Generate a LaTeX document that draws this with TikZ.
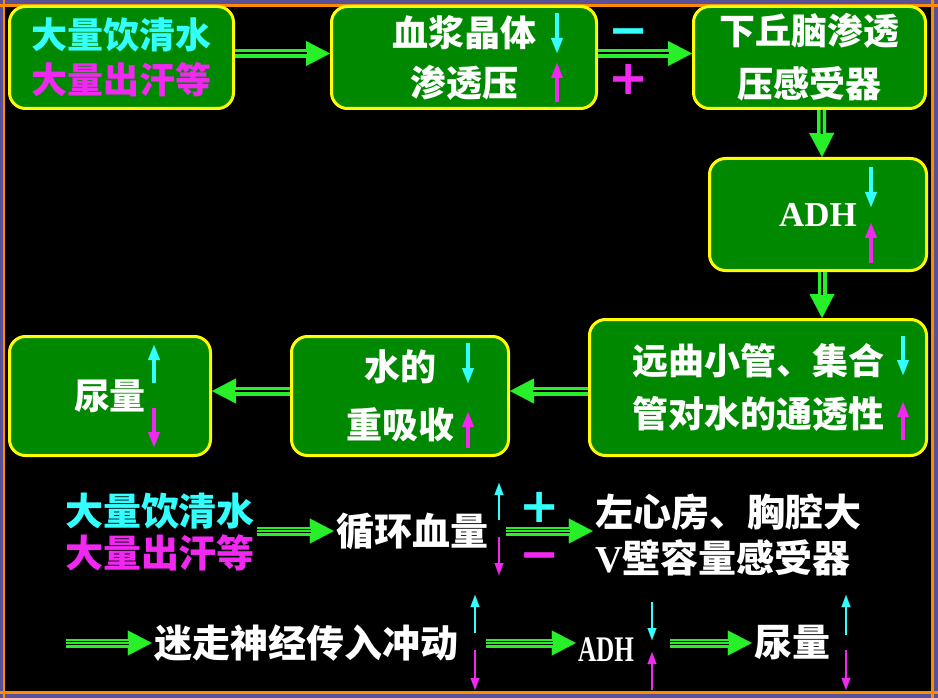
\documentclass[tikz,border=0pt]{standalone}
\usepackage{fontspec}
\newfontfamily\cjk{Noto Sans CJK SC}
\newfontfamily\latin{Liberation Serif}
\newfontfamily\symb{DejaVu Sans}
\usetikzlibrary{arrows.meta,positioning,calc}
\definecolor{boxgreen}{RGB}{0,136,0}
\definecolor{edgeyellow}{RGB}{255,255,0}
\definecolor{flowgreen}{RGB}{40,240,40}
\definecolor{upcyan}{RGB}{51,255,255}
\definecolor{downmag}{RGB}{240,40,240}
\definecolor{framepurple}{RGB}{90,80,150}
\definecolor{frameorange}{RGB}{255,140,0}

\begin{document}
\begin{tikzpicture}[
    x=1pt, y=-1pt,
    font=\cjk\bfseries\fontsize{36}{44}\selectfont,
    box/.style={rectangle, draw=edgeyellow, line width=3pt, rounded corners=16pt, fill=boxgreen, text=white, align=center, inner sep=0pt},
    flow/.style={draw=flowgreen, line width=9pt, -{Triangle[length=24pt,width=25pt,line width=0.1pt]},
        postaction={draw=black, line width=2pt, -, shorten >=23pt}},
    flowthree/.style={draw=flowgreen, line width=9pt, -{Triangle[length=24pt,width=25pt,line width=0.1pt]},
        postaction={draw=black, double=flowgreen, double distance=1.6pt, line width=1.3pt, -, shorten >=23pt}},
    trend/.style={line width=4pt, -{Triangle[length=15pt,width=12pt,line width=0.1pt]}},
    trendthin/.style={line width=2.6pt, -{Triangle[length=12pt,width=9pt,line width=0.1pt]}},
    label/.style={text=white, inner sep=2pt, align=left, font=\cjk\bfseries\fontsize{38}{44}\selectfont},
    sign/.style={inner sep=0pt, text height=34pt, text depth=0pt, font=\symb\bfseries\fontsize{48}{48}\selectfont}
]
    \useasboundingbox (0,0) rectangle (938,698);
    % Frame
    \fill[framepurple] (0,0) rectangle (938,698);
    \fill[black] (5,6) rectangle (932,692);
    \draw[frameorange, line width=3pt] (0,6) -- (938,6) (0,692) -- (938,692) (932,0) -- (932,698);
    \draw[frameorange, line width=1.5pt] (4,0) -- (4,698);

    % Osmotic pathway
    \node[box, minimum width=224, minimum height=102] (intake) at (121.5,57.5)
        {{\color{upcyan}大量饮清水}\\[1pt]{\color{downmag}大量出汗等}};
    \node[box, minimum width=265, minimum height=102] (plasma) at (464,57.5) {血浆晶体\\[6pt]渗透压};
    \node[box, minimum width=232, minimum height=102] (sensor) at (809.5,57.5) {下丘脑渗透\\[9pt]压感受器};
    \node[box, minimum width=217, minimum height=112] (adh) at (818,214.5)
        {\latin\bfseries\fontsize{35}{40}\selectfont ADH};
    \node[box, minimum width=337, minimum height=136] (tubule) at (758,387.5) {远曲小管、集合\\[9pt]管对水的通透性};
    \node[box, minimum width=217, minimum height=119] (reabs) at (400,396) {水的\\[14pt]重吸收};
    \node[box, minimum width=201, minimum height=119] (urine) at (110,396) {尿量};

    \node[sign, text=upcyan] (minus) at (629,29.5) {−};
    \node[sign, text=downmag] (plus) at (629,78) {+};

    \draw[flow] ([yshift=4pt]intake.east) -- ([yshift=4pt]plasma.west);
    \draw[flow] ([yshift=4pt]plasma.east) -- ([yshift=4pt]sensor.west);
    \draw[flow] ([xshift=12pt]sensor.south) -- ([xshift=4pt]adh.north);
    \draw[flow] ([xshift=4pt]adh.south) -- ([xshift=64pt]tubule.north);
    \draw[flow] ([yshift=5pt]tubule.west |- reabs.east) -- ([yshift=5pt]reabs.east);
    \draw[flow] ([yshift=5pt]reabs.west) -- ([yshift=5pt]urine.east);

    % Up and down marks
    \draw[trend, upcyan] (557,13) -- (557,53);
    \draw[trend, downmag] (557,102) -- (557,63);
    \draw[trend, upcyan] (871,167) -- (871,207);
    \draw[trend, downmag] (871,263) -- (871,223);
    \draw[trend, upcyan] (903,336) -- (903,375);
    \draw[trend, downmag] (903,440) -- (903,402);
    \draw[trend, upcyan] (468,343) -- (468,383);
    \draw[trend, downmag] (468,448) -- (468,412);
    \draw[trend, upcyan] (154,383) -- (154,345);
    \draw[trend, downmag] (154,408) -- (154,447);

    % Volume pathway
    \node[label] (intake2) at (160,532) {{\color{upcyan}大量饮清水}\\[-2pt]{\color{downmag}大量出汗等}};
    \node[label] (bloodvol) at (412,531) {循环血量};
    \node[label] (atrium) at (728,535) {左心房、胸腔大\\[2pt]{\latin V}壁容量感受器};
    \node[sign, text=upcyan] (plus2) at (540,505) {+};
    \node[sign, text=downmag] (minus2) at (540,553) {−};

    \coordinate (vagstart) at (66,643);
    \node[label] (vagus) at (306,643) {迷走神经传入冲动};
    \node[label] (adhlow) at (606,650) {\latin\fontsize{36}{40}\selectfont\scalebox{0.7}[1]{ADH}};
    \node[label] (urinelow) at (792,643) {尿量};

    \draw[flowthree] (intake2.east |- bloodvol) -- (bloodvol.west);
    \draw[flowthree] ([xshift=16pt]bloodvol.east) -- (bloodvol -| atrium.west);
    \draw[flowthree] (vagstart) -- (vagus.west);
    \draw[flowthree] ([xshift=26pt]vagus.east) -- (vagus -| adhlow.west);
    \draw[flowthree] ($(adhlow.east |- vagus)+(34,0)$) -- (urinelow.west);

    \draw[trendthin, upcyan] (499,520) -- (499,483);
    \draw[trendthin, downmag] (499,537) -- (499,575);
    \draw[trendthin, upcyan] (475,633) -- (475,595);
    \draw[trendthin, downmag] (475,650) -- (475,690);
    \draw[trendthin, upcyan] (652,602) -- (652,640);
    \draw[trendthin, downmag] (652,690) -- (652,652);
    \draw[trendthin, upcyan] (846,635) -- (846,595);
    \draw[trendthin, downmag] (846,650) -- (846,690);

\end{tikzpicture}
\end{document}
